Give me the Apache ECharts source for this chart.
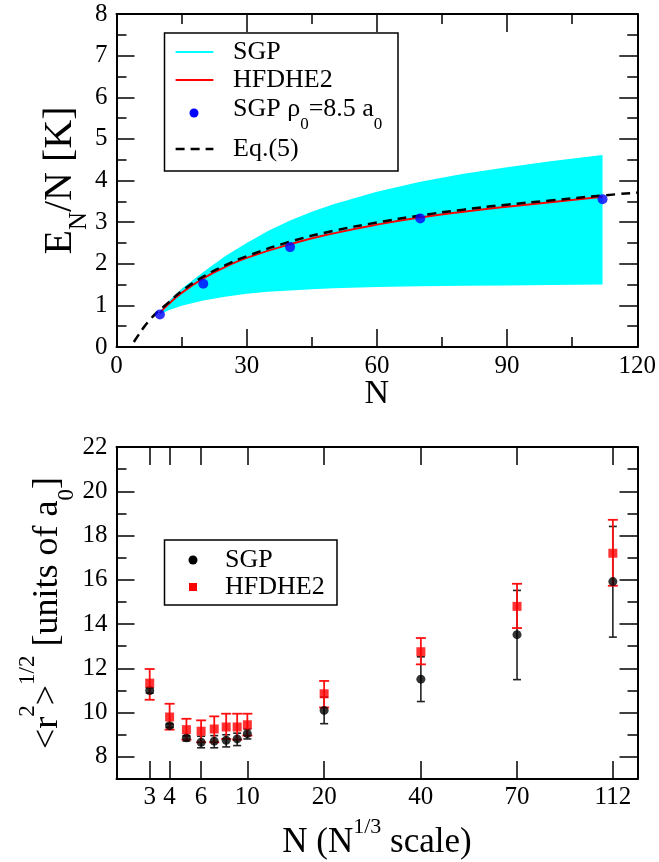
<!DOCTYPE html>
<html><head><meta charset="utf-8">
<script src="https://cdn.jsdelivr.net/npm/echarts@6/dist/echarts.min.js"></script>
<style>html,body{margin:0;padding:0;background:#fff}#c{width:659px;height:862px}</style>
</head><body><div id="c"></div>
<script>
// ---------- top panel data ----------
const bandN    = [10, 12, 15, 20, 25, 30, 35, 40, 45, 50, 60, 70, 80, 90, 100, 112];
const bandLow  = [0.78, 0.88, 0.99, 1.12, 1.21, 1.28, 1.33, 1.36, 1.39, 1.41, 1.44, 1.46, 1.47, 1.48, 1.49, 1.50];
const bandHigh = [0.86, 1.10, 1.40, 1.80, 2.18, 2.50, 2.79, 3.04, 3.25, 3.43, 3.73, 3.97, 4.16, 4.32, 4.46, 4.61];
const hfN = [10, 12, 15, 20, 25, 30, 40, 50, 60, 70, 80, 90, 100, 112];
const hfE = [0.82, 1.03, 1.30, 1.65, 1.92, 2.14, 2.47, 2.73, 2.94, 3.11, 3.25, 3.37, 3.48, 3.61];
const eqN = [4, 5, 6, 8, 10, 12, 15, 20, 25, 30, 40, 50, 60, 70, 80, 90, 100, 112, 120];
const eqE = [0.12, 0.28, 0.43, 0.69, 0.89, 1.07, 1.34, 1.69, 1.96, 2.18, 2.53, 2.79, 2.99, 3.16, 3.30, 3.42, 3.52, 3.64, 3.71];
const ptN = [10, 20, 40, 70, 112];
const ptE = [0.78, 1.52, 2.40, 3.09, 3.55];

// ---------- bottom panel data ----------
const rN    = [3, 4, 5, 6, 7, 8, 9, 10, 20, 40, 70, 112];
const sgpR  = [11.00, 9.41, 8.86, 8.66, 8.71, 8.75, 8.81, 9.05, 10.10, 11.51, 13.52, 15.92];
const sgpLo = [10.88, 9.33, 8.72, 8.41, 8.41, 8.45, 8.51, 8.81, 9.50, 10.50, 11.49, 13.41];
const sgpHi = [11.12, 9.49, 8.95, 8.93, 8.96, 9.00, 9.07, 9.26, 10.70, 12.52, 15.52, 18.41];
const hfR   = [11.33, 9.80, 9.23, 9.16, 9.26, 9.35, 9.35, 9.45, 10.85, 12.75, 14.80, 17.20];
const hfLo  = [10.58, 9.23, 8.78, 8.66, 8.66, 8.81, 8.78, 8.96, 10.23, 12.18, 13.82, 15.73];
const hfHi  = [11.97, 10.40, 9.72, 9.65, 9.83, 9.95, 9.95, 9.95, 11.43, 13.37, 15.82, 18.71];
const bottomTickN = [3, 4, 6, 10, 20, 40, 70, 112];
const bottomYMajor = [8, 10, 12, 14, 16, 18, 20, 22];
const bottomYMinor = [9, 11, 13, 15, 17, 19, 21];

const FONT = 'Liberation Serif';
const TICKFS = 25;
const cb = Math.cbrt;
const lineAx = {show: true, onZero: false, lineStyle: {color: '#000', width: 2}};
const tickSt = {color: '#000', width: 1.5};

const chart = echarts.init(document.getElementById('c'), null, {renderer: 'canvas'});

const option = {
  backgroundColor: '#fff',
  animation: false,
  grid: [
    {left: 116.5, top: 14, width: 521, height: 333},
    {left: 116.5, top: 447, width: 521, height: 332}
  ],
  xAxis: [
    {gridIndex: 0, type: 'value', position: 'bottom', min: 0, max: 120, interval: 30,
     axisLine: lineAx, splitLine: {show: false},
     axisTick: {show: true, inside: true, length: 18, lineStyle: tickSt},
     minorTick: {show: true, splitNumber: 2, length: 10, lineStyle: tickSt},
     axisLabel: {show: true, fontFamily: FONT, fontSize: TICKFS, color: '#000', margin: 7},
     name: 'N', nameLocation: 'middle', nameGap: 47, nameMoveOverlap: false,
     nameTextStyle: {fontFamily: FONT, fontSize: 34, color: '#000', align: 'center', verticalAlign: 'middle'}},
    {gridIndex: 0, type: 'value', position: 'top', min: 0, max: 120, interval: 30,
     axisLine: lineAx, splitLine: {show: false},
     axisTick: {show: true, inside: true, length: 18, lineStyle: tickSt},
     minorTick: {show: true, splitNumber: 2, length: 10, lineStyle: tickSt},
     axisLabel: {show: false}},
    {gridIndex: 1, type: 'value', position: 'bottom', min: 1.2, max: 5.0,
     axisLine: lineAx, splitLine: {show: false},
     axisTick: {show: true, inside: true, length: 18, lineStyle: tickSt, customValues: bottomTickN.map(cb)},
     axisLabel: {show: true, fontFamily: FONT, fontSize: TICKFS, color: '#000', margin: 6,
                 customValues: bottomTickN.map(cb),
                 formatter: v => String(Math.round(v * v * v))},
     name: '{m|N (N}{sup|1/3}{m| scale)}', nameLocation: 'middle', nameGap: 64, nameMoveOverlap: false,
     nameTextStyle: {align: 'center', verticalAlign: 'middle', rich: {
       m: {fontFamily: FONT, fontSize: 35, color: '#000', lineHeight: 54},
       sup: {fontFamily: FONT, fontSize: 22, color: '#000', lineHeight: 24, verticalAlign: 'top'}}}},
    {gridIndex: 1, type: 'value', position: 'top', min: 1.2, max: 5.0,
     axisLine: lineAx, splitLine: {show: false},
     axisTick: {show: true, inside: true, length: 18, lineStyle: tickSt, customValues: bottomTickN.map(cb)},
     axisLabel: {show: false}}
  ],
  yAxis: [
    {gridIndex: 0, type: 'value', position: 'left', min: 0, max: 8, interval: 1,
     axisLine: lineAx, splitLine: {show: false},
     axisTick: {show: true, inside: true, length: 18, lineStyle: tickSt},
     minorTick: {show: true, splitNumber: 2, length: 10, lineStyle: tickSt},
     axisLabel: {show: true, fontFamily: FONT, fontSize: TICKFS, color: '#000', margin: 9},
     name: '{m|E}{s|N}{m|/N [K]}', nameLocation: 'middle', nameGap: 56, nameRotate: 90, nameMoveOverlap: false,
     nameTextStyle: {align: 'center', verticalAlign: 'middle', rich: {
       m: {fontFamily: FONT, fontSize: 40, color: '#000', lineHeight: 62},
       s: {fontFamily: FONT, fontSize: 25, color: '#000', lineHeight: 26, verticalAlign: 'bottom'}}}},
    {gridIndex: 0, type: 'value', position: 'right', min: 0, max: 8, interval: 1,
     axisLine: lineAx, splitLine: {show: false},
     axisTick: {show: true, inside: true, length: 18, lineStyle: tickSt},
     minorTick: {show: true, splitNumber: 2, length: 10, lineStyle: tickSt},
     axisLabel: {show: false}},
    {gridIndex: 1, type: 'value', position: 'left', min: 7, max: 22,
     axisLine: lineAx, splitLine: {show: false},
     axisTick: {show: true, inside: true, length: 18, lineStyle: tickSt, customValues: bottomYMajor},
     axisLabel: {show: true, fontFamily: FONT, fontSize: TICKFS, color: '#000', margin: 9, customValues: bottomYMajor},
     name: '{m|<r}{sup|2}{m|>}{sup|1/2}{m| [units of a}{s|0}{m|]}', nameLocation: 'middle', nameGap: 69, nameRotate: 90,
     nameMoveOverlap: false,
     nameTextStyle: {align: 'center', verticalAlign: 'middle', rich: {
       m: {fontFamily: FONT, fontSize: 36, color: '#000', lineHeight: 62},
       sup: {fontFamily: FONT, fontSize: 23, color: '#000', lineHeight: 24, verticalAlign: 'top'},
       s: {fontFamily: FONT, fontSize: 23, color: '#000', lineHeight: 24, verticalAlign: 'bottom'}}}},
    {gridIndex: 1, type: 'value', position: 'left', min: 7, max: 22,
     axisLine: {show: false}, splitLine: {show: false},
     axisTick: {show: true, inside: true, length: 10, lineStyle: tickSt, customValues: bottomYMinor},
     axisLabel: {show: false}},
    {gridIndex: 1, type: 'value', position: 'right', min: 7, max: 22,
     axisLine: lineAx, splitLine: {show: false},
     axisTick: {show: true, inside: true, length: 18, lineStyle: tickSt, customValues: bottomYMajor},
     axisLabel: {show: false}},
    {gridIndex: 1, type: 'value', position: 'right', min: 7, max: 22,
     axisLine: {show: false}, splitLine: {show: false},
     axisTick: {show: true, inside: true, length: 10, lineStyle: tickSt, customValues: bottomYMinor},
     axisLabel: {show: false}}
  ],
  series: [
    {name: 'SGP band', type: 'custom', xAxisIndex: 0, yAxisIndex: 0, z: 1,
     data: bandN.map((n, i) => [n, bandLow[i], bandHigh[i]]),
     encode: {x: 0, y: [1, 2]},
     renderItem: (params, api) => {
       if (params.dataIndex !== 0) return null;
       const pts = [];
       for (let i = 0; i < bandN.length; i++) pts.push(api.coord([bandN[i], bandHigh[i]]));
       for (let i = bandN.length - 1; i >= 0; i--) pts.push(api.coord([bandN[i], bandLow[i]]));
       return {type: 'polygon', shape: {points: pts}, style: {fill: '#00FFFF'}};
     }},
    {name: 'HFDHE2', type: 'line', xAxisIndex: 0, yAxisIndex: 0, z: 2,
     data: hfN.map((n, i) => [n, hfE[i]]), smooth: true, symbol: 'none',
     lineStyle: {color: '#FF0000', width: 2}},
    {name: 'Eq.(5)', type: 'line', xAxisIndex: 0, yAxisIndex: 0, z: 3,
     data: eqN.map((n, i) => [n, eqE[i]]), smooth: true, symbol: 'none',
     lineStyle: {color: '#000', width: 2.5, type: [9, 6]}},
    {name: 'SGP rho0=8.5 a0', type: 'scatter', xAxisIndex: 0, yAxisIndex: 0, z: 4,
     data: ptN.map((n, i) => [n, ptE[i]]), symbol: 'circle', symbolSize: 10,
     itemStyle: {color: '#0000FF'}},

    {name: 'SGP err', type: 'custom', xAxisIndex: 2, yAxisIndex: 2, z: 2,
     data: rN.map((n, i) => [cb(n), sgpLo[i], sgpHi[i]]),
     encode: {x: 0, y: [1, 2]},
     renderItem: (params, api) => {
       const lo = api.coord([api.value(0), api.value(1)]);
       const hi = api.coord([api.value(0), api.value(2)]);
       const w = 4, st = {stroke: '#222', lineWidth: 1.6};
       return {type: 'group', children: [
         {type: 'line', shape: {x1: lo[0], y1: lo[1], x2: hi[0], y2: hi[1]}, style: st},
         {type: 'line', shape: {x1: lo[0] - w, y1: lo[1], x2: lo[0] + w, y2: lo[1]}, style: st},
         {type: 'line', shape: {x1: hi[0] - w, y1: hi[1], x2: hi[0] + w, y2: hi[1]}, style: st}
       ]};
     }},
    {name: 'HFDHE2 err', type: 'custom', xAxisIndex: 2, yAxisIndex: 2, z: 3,
     data: rN.map((n, i) => [cb(n), hfLo[i], hfHi[i]]),
     encode: {x: 0, y: [1, 2]},
     renderItem: (params, api) => {
       const lo = api.coord([api.value(0), api.value(1)]);
       const hi = api.coord([api.value(0), api.value(2)]);
       const w = 5, st = {stroke: '#FF1010', lineWidth: 1.8};
       return {type: 'group', children: [
         {type: 'line', shape: {x1: lo[0], y1: lo[1], x2: hi[0], y2: hi[1]}, style: st},
         {type: 'line', shape: {x1: lo[0] - w, y1: lo[1], x2: lo[0] + w, y2: lo[1]}, style: st},
         {type: 'line', shape: {x1: hi[0] - w, y1: hi[1], x2: hi[0] + w, y2: hi[1]}, style: st}
       ]};
     }},
    {name: 'SGP', type: 'scatter', xAxisIndex: 2, yAxisIndex: 2, z: 4,
     data: rN.map((n, i) => [cb(n), sgpR[i]]), symbol: 'circle', symbolSize: 9,
     itemStyle: {color: '#000'}},
    {name: 'HFDHE2 r', type: 'scatter', xAxisIndex: 2, yAxisIndex: 2, z: 5,
     data: rN.map((n, i) => [cb(n), hfR[i]]), symbol: 'rect', symbolSize: 9,
     itemStyle: {color: '#FF0000'}}
  ],
  graphic: [
    // top legend
    {type: 'rect', z: 100, shape: {x: 164.5, y: 33, width: 233.5, height: 138},
     style: {fill: '#fff', stroke: '#000', lineWidth: 1.5}},
    {type: 'line', z: 101, shape: {x1: 175.6, y1: 52, x2: 213.4, y2: 52}, style: {stroke: '#00FFFF', lineWidth: 2}},
    {type: 'text', z: 101, x: 233, y: 52, style: {text: 'SGP', fontFamily: FONT, fontSize: 26, fill: '#000', verticalAlign: 'middle'}},
    {type: 'line', z: 101, shape: {x1: 175.6, y1: 80, x2: 213.4, y2: 80}, style: {stroke: '#FF0000', lineWidth: 2}},
    {type: 'text', z: 101, x: 233, y: 80, style: {text: 'HFDHE2', fontFamily: FONT, fontSize: 26, fill: '#000', verticalAlign: 'middle'}},
    {type: 'circle', z: 101, shape: {cx: 194, cy: 113, r: 4.5}, style: {fill: '#0000FF'}},
    {type: 'text', z: 101, x: 233, y: 109, style: {text: '{m|SGP ρ}{s|0}{m|=8.5 a}{s|0}', verticalAlign: 'middle',
      rich: {m: {fontFamily: FONT, fontSize: 26, fill: '#000', lineHeight: 48},
             s: {fontFamily: FONT, fontSize: 17, fill: '#000', lineHeight: 20, verticalAlign: 'bottom'}}}},
    {type: 'line', z: 101, shape: {x1: 175.6, y1: 149, x2: 213.4, y2: 149}, style: {stroke: '#000', lineWidth: 2.5, lineDash: [9, 6]}},
    {type: 'text', z: 101, x: 233, y: 149, style: {text: 'Eq.(5)', fontFamily: FONT, fontSize: 26, fill: '#000', verticalAlign: 'middle'}},
    // bottom legend
    {type: 'rect', z: 100, shape: {x: 164.5, y: 540, width: 172.5, height: 65},
     style: {fill: '#fff', stroke: '#000', lineWidth: 1.5}},
    {type: 'circle', z: 101, shape: {cx: 193, cy: 560, r: 4.5}, style: {fill: '#000'}},
    {type: 'text', z: 101, x: 225, y: 560, style: {text: 'SGP', fontFamily: FONT, fontSize: 26, fill: '#000', verticalAlign: 'middle'}},
    {type: 'rect', z: 101, shape: {x: 189, y: 583, width: 8, height: 8}, style: {fill: '#FF0000'}},
    {type: 'text', z: 101, x: 225, y: 587, style: {text: 'HFDHE2', fontFamily: FONT, fontSize: 26, fill: '#000', verticalAlign: 'middle'}}
  ]
};
chart.setOption(option);
</script>
</body></html>
